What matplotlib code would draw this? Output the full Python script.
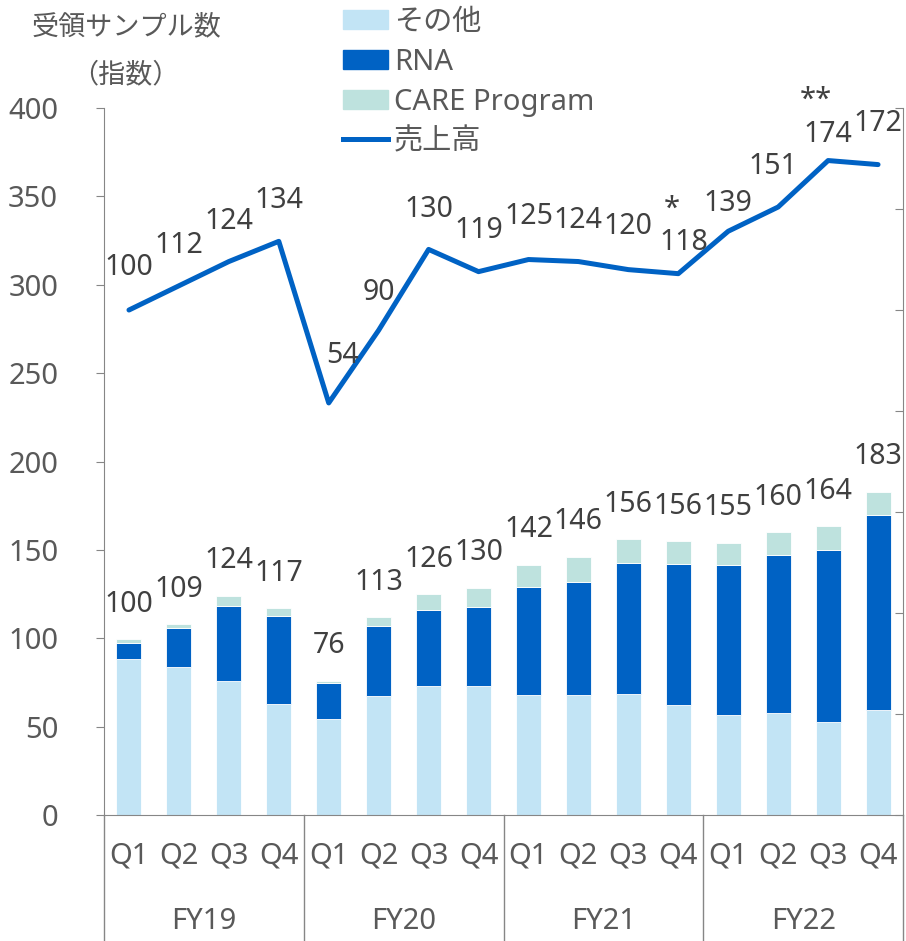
import matplotlib.pyplot as plt
import matplotlib.transforms as mtransforms
from matplotlib.patches import Patch
from matplotlib.lines import Line2D

plt.rcParams['font.family'] = ['Noto Sans', 'Noto Sans CJK JP']

years = ['FY19', 'FY20', 'FY21', 'FY22']
quarters = ['Q1', 'Q2', 'Q3', 'Q4']
other = [88, 84, 76, 63, 54.5, 67.5, 73, 73, 68, 68, 68.5, 62.5, 56.5, 57.5, 52.5, 59.5]
rna = [9.5, 22, 42.5, 49.5, 20, 39.5, 43, 44.5, 61, 64, 74, 79.5, 85, 89.5, 97.5, 110]
care = [2, 2, 5.5, 4.5, 1.5, 5, 9, 11, 12.5, 14, 13.5, 13, 12.5, 13, 13.5, 13.5]
sample_index = [100, 109, 124, 117, 76, 113, 126, 130, 142, 146, 156, 156, 155, 160, 164, 183]
sales = [100, 112, 124, 134, 54, 90, 130, 119, 125, 124, 120, 118, 139, 151, 174, 172]

# label placement for the sales line (pixels)
lab_dx = [0, 0, 0, 0, 14, 0, 0, 0, 0, 0, 0, 6, 0, -5, 0, 0]
lab_dy = [43, 40, 40, 41, 47, 38, 40, 41, 43, 41, 43, 31, 28, 41, 26, 41]

c_other = '#C2E4F5'
c_rna = '#0062C4'
c_care = '#BEE2DE'
grey = '#868686'
txt = '#595959'
lbl = '#404040'
fs = 21

fig = plt.figure(figsize=(9.06, 9.41), dpi=100)
ax = fig.add_axes([0.1148, 0.1339, 0.8819, 0.7513])

x = list(range(len(other)))
bottom2 = [a + b for a, b in zip(other, rna)]
tops = [a + b for a, b in zip(bottom2, care)]
ax.bar(x, other, 0.5, color=c_other, edgecolor='white', linewidth=0.6)
ax.bar(x, rna, 0.5, bottom=other, color=c_rna, edgecolor='white', linewidth=0.6)
ax.bar(x, care, 0.5, bottom=bottom2, color=c_care, edgecolor='white', linewidth=0.6)

for i, (t, v) in enumerate(zip(tops, sample_index)):
    ax.annotate(str(v), (i, t), xytext=(0, 35), textcoords='offset pixels',
                ha='center', va='center', fontsize=20.5, color=lbl)

ax.set_xlim(-0.5, 15.5)
ax.set_ylim(0, 400)
ax.set_yticks(range(0, 401, 50))
ax.set_xticks([])
ax.tick_params(axis='y', length=6, pad=27, color=grey, labelcolor=txt, labelsize=fs)
for s in ['top', 'right']:
    ax.spines[s].set_visible(False)
ax.spines['left'].set_color(grey)
ax.spines['bottom'].set_color(grey)

# two-level category axis
trans = mtransforms.blended_transform_factory(ax.transData, ax.transAxes)
for i in x:
    ax.text(i, -0.058, quarters[i % 4], transform=trans, ha='center', va='center',
            fontsize=fs, color=txt)
for g, yname in enumerate(years):
    ax.text(g * 4 + 1.5, -0.150, yname, transform=trans, ha='center', va='center',
            fontsize=fs, color=txt)
for b in [-0.5, 3.5, 7.5, 11.5, 15.5]:
    ax.plot([b, b], [0, -0.18], transform=trans, color=grey, lw=1, clip_on=False)

# sales line on secondary axis
ax2 = ax.twinx()
ax2.plot(x, sales, color=c_rna, lw=3.6, solid_capstyle='round')
ax2.set_ylim(-150, 200)
ax2.set_yticks(range(-150, 201, 50))
ax2.tick_params(axis='y', direction='in', length=6, labelright=False, color=grey)
for s in ['top', 'left', 'bottom']:
    ax2.spines[s].set_visible(False)
ax2.spines['right'].set_color(grey)

for i, v in enumerate(sales):
    ax2.annotate(str(v), (i, v), xytext=(lab_dx[i], lab_dy[i]), textcoords='offset pixels',
                 ha='center', va='center', fontsize=20.5, color=lbl)
ax2.annotate('*', (11, sales[11]), xytext=(-6, 64), textcoords='offset pixels',
             ha='center', va='center', fontsize=fs, color=lbl)
ax2.annotate('**', (14, sales[14]), xytext=(-12, 60), textcoords='offset pixels',
             ha='center', va='center', fontsize=fs, color=lbl)

# axis title
fig.text(32 / 906, 1 - 27 / 941, '受領サンプル数', ha='left', va='center', fontsize=19.5, color=txt)
fig.text(125 / 906, 1 - 75 / 941, '（指数）', ha='center', va='center', fontsize=19.5, color=txt)

handles = [Patch(color=c_other), Patch(color=c_rna), Patch(color=c_care),
           Line2D([], [], color=c_rna, lw=3.6)]
labels = ['その他', 'RNA', 'CARE Program', '売上高']
fig.legend(handles, labels, loc='upper left', bbox_to_anchor=(343 / 906, 1 - 8 / 941),
           frameon=False, borderpad=0, borderaxespad=0, handlelength=1.55,
           handleheight=0.65, handletextpad=0.2, labelspacing=0.37, fontsize=fs,
           labelcolor=txt)

fig.savefig('out.png', dpi=100)
